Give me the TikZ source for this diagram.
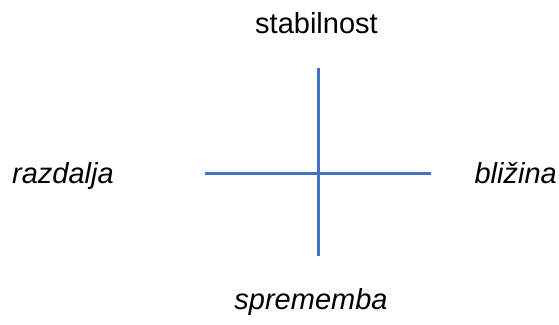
\documentclass[tikz,border=0pt]{standalone}
\usepackage{fontspec}
\setmainfont{Liberation Sans}
\definecolor{axisblue}{HTML}{4472C4}
\begin{document}
\begin{tikzpicture}[x=1pt,y=-1pt,
  lbl/.style={inner sep=0pt, font=\fontsize{29}{34}\selectfont},
  ilbl/.style={lbl, font=\fontsize{29}{34}\selectfont\itshape},
  axis/.style={draw=axisblue, line width=3pt}]
\useasboundingbox (0,0) rectangle (559,324);
\node[lbl, anchor=base] (top) at (316.5,33) {stabilnost};
\node[ilbl, anchor=base west] (left) at (12,183) {razdalja};
\node[ilbl, anchor=base east] (right) at (557,183) {bližina};
\node[ilbl, anchor=base] (bottom) at (311,309) {sprememba};
\coordinate (vt) at (318,68);
\coordinate (vb) at (318,256);
\coordinate (hl) at (205,173);
\coordinate (hr) at (431,173);
\draw[axis] (vt) -- (vb);
\draw[axis] (hl) -- (hr);
\end{tikzpicture}
\end{document}
